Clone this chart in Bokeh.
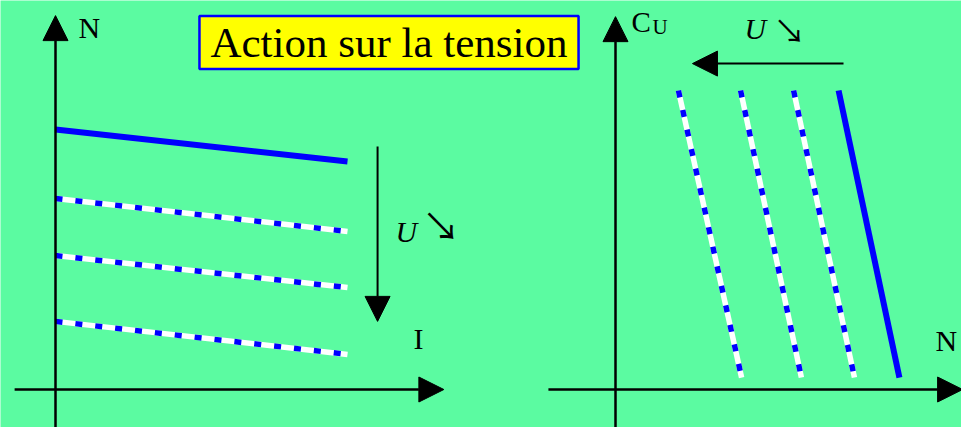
from bokeh.plotting import figure
from bokeh.models import Range1d, Arrow, NormalHead, Label
from bokeh.embed import file_html
from bokeh.resources import INLINE

# ---------------- data ----------------
# Left panel: N = f(I)
left_I = [0, 10]
left_N_solid = [1000, 877]
left_N_dashed = [[735, 608], [515, 392], [262, 135]]
left_I_axis = [-1.4, 13.3]
left_N_axis = [-160, 1438]
left_arrow_I = 11.03
left_arrow_N = [935, 262]

# Right panel: C_U = f(N)
right_C = [10, 0.4]
right_N_solid = [858, 1092]
right_N_dashed = [[242, 485], [481, 715], [685, 919]]
right_N_axis = [-258, 1335]
right_C_axis = [-1.5, 12.47]
right_arrow_C = 10.9
right_arrow_N = [877, 296]

BG = "#5BFBA1"
BLUE = "#0000FF"
SERIF = "Liberation Serif"

W, H = 961, 427

def rng(v0, p0, scale, size):
    # range such that value v0 sits at pixel p0 with `scale` px per unit
    return Range1d(v0 - p0 / scale, v0 + (size - p0) / scale)

p = figure(width=W, height=H, output_backend="svg", toolbar_location=None,
           x_range=rng(0, 55, 29.2, W), y_range=rng(0, 38, 0.26, H),
           min_border=0, background_fill_color=BG, border_fill_color=BG,
           outline_line_color=None)
p.axis.visible = False
p.grid.visible = False
p.extra_x_ranges = {"n2": rng(0, 615, 0.26, W)}
p.extra_y_ranges = {"c2": rng(0, 38, 29.9, H)}

def arrow(x0, y0, x1, y1, xr="default", yr="default", lw=2.5):
    p.add_layout(Arrow(x_start=x0, y_start=y0, x_end=x1, y_end=y1,
                       x_range_name=xr, y_range_name=yr,
                       line_color="black", line_width=lw,
                       end=NormalHead(size=25, fill_color="black", line_color="black", line_width=1)))

# ---- left panel ----
arrow(left_I_axis[0], 0, left_I_axis[1], 0)
arrow(0, left_N_axis[0], 0, left_N_axis[1])
arrow(left_arrow_I, left_arrow_N[0], left_arrow_I, left_arrow_N[1], lw=2)

p.line(left_I, left_N_solid, line_color=BLUE, line_width=6)
for ys in left_N_dashed:
    p.line(left_I, ys, line_color="white", line_width=5.5)
    p.line(left_I, ys, line_color=BLUE, line_width=5.5, line_dash="7 13")

# ---- right panel ----
arrow(right_N_axis[0], 0, right_N_axis[1], 0, "n2", "c2")
arrow(0, right_C_axis[0], 0, right_C_axis[1], "n2", "c2")
arrow(right_arrow_N[0], right_arrow_C, right_arrow_N[1], right_arrow_C, "n2", "c2", lw=2)

p.line(right_N_solid, right_C, line_color=BLUE, line_width=6,
       x_range_name="n2", y_range_name="c2")
for xs in right_N_dashed:
    p.line(xs, right_C, line_color="white", line_width=5.5, x_range_name="n2", y_range_name="c2")
    p.line(xs, right_C, line_color=BLUE, line_width=5.5, line_dash="7 13",
           x_range_name="n2", y_range_name="c2")

# ---- texts ----
def lab(x, y, t, size, xr="default", yr="default", style="normal", font=SERIF, base="alphabetic", align="left"):
    p.add_layout(Label(x=x, y=y, text=t, x_range_name=xr, y_range_name=yr,
                       text_font=font, text_font_size=f"{size}px", text_font_style=style,
                       text_color="black", text_baseline=base, text_align=align))

ARW = "Noto Sans CJK JP"
lab(0.79, 1392, "N", 30)
lab(12.26, 195, "I", 30)
lab(11.64, 608, "U", 30, style="italic")
lab(12.55, 640, "↘", 38, font=ARW, base="middle")

lab(61.5, 12.3, "C", 29, "n2", "c2")
lab(142, 12.13, "U", 21, "n2", "c2")
lab(496, 12.08, "U", 30, "n2", "c2", style="italic")
lab(608, 12.07, "↘", 32, "n2", "c2", font=ARW, base="middle")
lab(1231, 1.64, "N", 30, "n2", "c2")

p.add_layout(Label(x=388.5, y=385, x_units="screen", y_units="screen",
                   text="Action sur la tension", text_font=SERIF, text_font_size="43px",
                   text_color="black", text_align="center", text_baseline="middle",
                   background_fill_color="#FFFF00", border_line_color=BLUE, border_line_width=2.5,
                   padding=dict(left=11, right=11, top=3, bottom=3)))

open("out.html", "w").write(file_html(p, INLINE))
